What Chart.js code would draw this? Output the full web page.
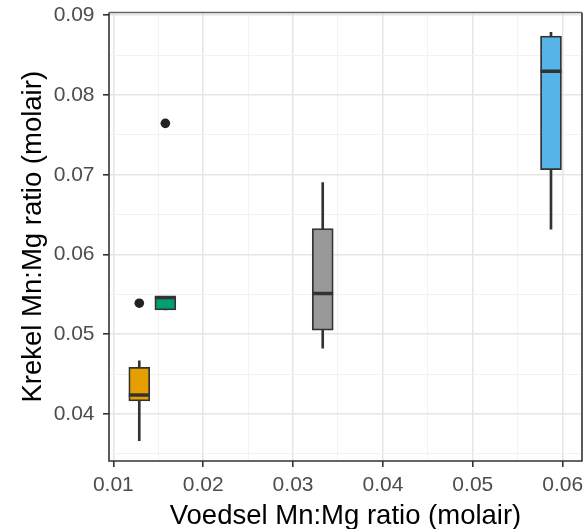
<!DOCTYPE html>
<html><head><meta charset="utf-8">
<script src="https://cdn.jsdelivr.net/npm/chart.js@4.4.1/dist/chart.umd.min.js"></script>
<style>html,body{margin:0;padding:0;background:#fff;} #wrap{width:586px;height:529px;}</style>
</head><body><div id="wrap"><canvas id="c" width="586" height="529"></canvas></div>
<script>
// x position (Voedsel Mn:Mg ratio) of each box
const xPositions = [0.01289, 0.01579, 0.0333, 0.0587];
// box statistics (Krekel Mn:Mg ratio)
const whiskerLow  = [0.03665, 0.05305, 0.04824, 0.06319];
const q1          = [0.04163, 0.05305, 0.05050, 0.07063];
const medians     = [0.04238, 0.05460, 0.05510, 0.08297];
const q3          = [0.04586, 0.05472, 0.06326, 0.08740];
const whiskerHigh = [0.04665, 0.05472, 0.06903, 0.08787];
const boxColors   = ['#E69F00', '#009E73', '#999999', '#56B4E9'];
// outliers
const outlierX = [0.01289, 0.01579];
const outlierY = [0.05389, 0.07645];
// axis ticks
const xMajorTicks = [0.01, 0.02, 0.03, 0.04, 0.05, 0.06];
const xTickLabels = ['0.01', '0.02', '0.03', '0.04', '0.05', '0.06'];
const yMajorTicks = [0.04, 0.05, 0.06, 0.07, 0.08, 0.09];
const yTickLabels = ['0.04', '0.05', '0.06', '0.07', '0.08', '0.09'];
const xTitle = 'Voedsel Mn:Mg ratio (molair)';
const yTitle = 'Krekel Mn:Mg ratio (molair)';

const FONT = "'Liberation Sans', Arial, sans-serif";

function withMinor(major, min, max) {
  const step = major[1] - major[0];
  const all = [];
  for (let i = -1; i < major.length; i++) {
    const base = i < 0 ? major[0] - step : major[i];
    if (i >= 0) all.push(base);
    all.push(+(base + step / 2).toFixed(6));
  }
  return all.filter(v => v > min && v < max).sort((a, b) => a - b).map(v => ({value: v}));
}
function majorIndex(list, v) {
  if (typeof v !== 'number') return -1;
  return list.findIndex(m => Math.abs(m - v) < 1e-7);
}
function isMajorCtx(list, c) {
  return !!(c && c.tick) && majorIndex(list, c.tick.value) >= 0;
}

const X_MIN = 0.00952, X_MAX = 0.06215, Y_MIN = 0.0341, Y_MAX = 0.09035;

const panelBorder = {
  id: 'panelBorder',
  afterDatasetsDraw(chart) {
    const {ctx, chartArea: a} = chart;
    ctx.save();
    ctx.lineWidth = 1.6;
    ctx.strokeStyle = '#333333';
    ctx.beginPath();
    ctx.moveTo(a.left, a.top); ctx.lineTo(a.left, a.bottom); ctx.lineTo(a.right, a.bottom); ctx.lineTo(a.right, a.top);
    ctx.stroke();
    ctx.strokeStyle = '#666666';
    ctx.beginPath();
    ctx.moveTo(a.left, a.top); ctx.lineTo(a.right, a.top);
    ctx.stroke();
    ctx.restore();
  }
};

function gridOpts(major) {
  return {
    offset: false,
    color: c => isMajorCtx(major, c) ? '#e6e6e6' : '#f2f2f2',
    lineWidth: c => isMajorCtx(major, c) ? 1.6 : 1,
    drawTicks: true,
    tickLength: 6,
    tickColor: c => isMajorCtx(major, c) ? '#333333' : 'rgba(0,0,0,0)',
    tickWidth: 1.6
  };
}

new Chart(document.getElementById('c'), {
  type: 'scatter',
  data: {
    datasets: [
      {
        type: 'scatter', label: 'median', order: 0,
        data: xPositions.map((x, i) => ({x, y: medians[i]})),
        pointStyle: 'line', pointRadius: 10.5, borderWidth: 3.5, borderColor: '#333333'
      },
      {
        type: 'scatter', label: 'outliers', order: 1,
        data: outlierX.map((x, i) => ({x, y: outlierY[i]})),
        pointStyle: 'circle', pointRadius: 4.8, backgroundColor: '#222222', borderWidth: 0
      },
      {
        type: 'bar', label: 'box', order: 2, grouped: false,
        data: xPositions.map((x, i) => ({x, y: [q1[i], q3[i]]})),
        backgroundColor: boxColors, borderColor: '#333333', borderWidth: 1.8,
        borderSkipped: false, barThickness: 21
      },
      {
        type: 'bar', label: 'whisker', order: 3, grouped: false,
        data: xPositions.map((x, i) => ({x, y: [whiskerLow[i], whiskerHigh[i]]})),
        backgroundColor: '#333333', borderWidth: 0, barThickness: 2
      }
    ]
  },
  options: {
    responsive: false,
    animation: false,
    events: [],
    layout: {autoPadding: false, padding: {top: 12.5, right: 4, left: 0, bottom: 0}},
    plugins: {legend: {display: false}, tooltip: {enabled: false}},
    scales: {
      x: {
        type: 'linear', min: X_MIN, max: X_MAX, offset: false,
        afterBuildTicks: s => { s.ticks = withMinor(xMajorTicks, X_MIN, X_MAX); },
        afterFit: s => { s.height = 68; s.paddingLeft = 0; s.paddingRight = 0; },
        ticks: {
          autoSkip: false, maxRotation: 0, padding: 6, color: '#4d4d4d',
          font: {family: FONT, size: 21, lineHeight: 1.2},
          callback: v => { const k = majorIndex(xMajorTicks, v); return k >= 0 ? xTickLabels[k] : ''; }
        },
        grid: gridOpts(xMajorTicks),
        border: {display: false},
        title: {display: true, text: xTitle, color: '#000000',
          font: {family: FONT, size: 27.5, lineHeight: 0.9}, padding: {top: 0, bottom: 0}}
      },
      y: {
        type: 'linear', min: Y_MIN, max: Y_MAX, beginAtZero: false,
        afterBuildTicks: s => { s.ticks = withMinor(yMajorTicks, Y_MIN, Y_MAX); },
        afterFit: s => { s.width = 109; s.paddingTop = 0; s.paddingBottom = 0; },
        ticks: {
          autoSkip: false, padding: 8.5, color: '#4d4d4d',
          font: {family: FONT, size: 21, lineHeight: 1.2},
          callback: v => { const k = majorIndex(yMajorTicks, v); return k >= 0 ? yTickLabels[k] : ''; }
        },
        grid: gridOpts(yMajorTicks),
        border: {display: false},
        title: {display: true, text: yTitle, color: '#000000',
          font: {family: FONT, size: 27.5, lineHeight: 0.9}, padding: {top: 21, bottom: 0}}
      }
    }
  },
  plugins: [panelBorder]
});
</script>
</body></html>
